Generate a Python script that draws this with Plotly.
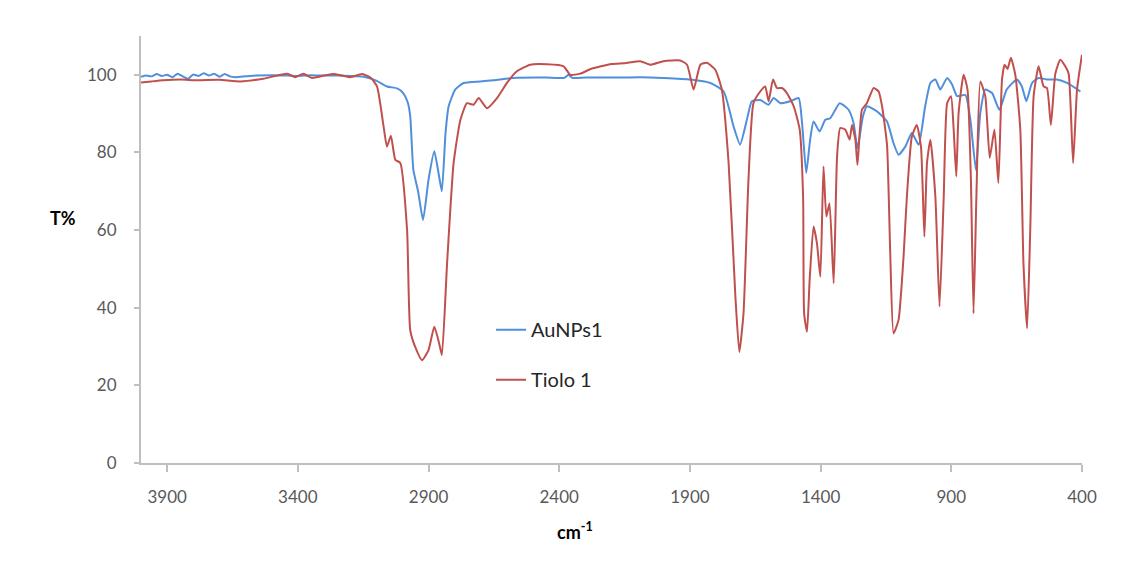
import plotly.graph_objects as go

# Wavenumber (cm-1) and transmittance (%)
tiolo_x = [4000, 3960, 3915, 3850, 3786, 3700, 3620, 3532, 3441, 3410, 3379, 3346, 3300, 3263, 3230,
           3199, 3154, 3120, 3097, 3072, 3059, 3044, 3027, 3008, 2982, 2970, 2951, 2925, 2900, 2878,
           2860, 2849, 2829, 2804, 2778, 2753, 2728, 2708, 2676, 2638, 2600, 2562, 2511, 2447, 2383,
           2358, 2319, 2280, 2200, 2150, 2090, 2052, 2002, 1937, 1911, 1886, 1860, 1835, 1803, 1778,
           1752, 1726, 1711, 1695, 1676, 1657, 1631, 1612, 1599, 1582, 1567, 1548, 1529, 1503, 1480,
           1467, 1463, 1452, 1442, 1427, 1414, 1401, 1389, 1378, 1366, 1350, 1337, 1325, 1306, 1289,
           1280, 1267, 1259, 1242, 1223, 1197, 1178, 1165, 1146, 1134, 1121, 1102, 1083, 1070, 1051,
           1032, 1016, 1003, 993, 980, 961, 945, 929, 916, 901, 891, 881, 872, 853, 838,
           825, 815, 804, 789, 770, 753, 735, 720, 706, 696, 685, 672, 655, 636, 624,
           610, 598, 585, 566, 547, 534, 519, 502, 483, 464, 451, 434, 419, 400]
tiolo_y = [98.0, 98.3, 98.6, 98.8, 98.6, 98.7, 98.3, 99.0, 100.3, 99.4, 100.3, 99.2, 99.8, 100.2, 99.8,
           99.4, 100.2, 99.2, 97.0, 86.7, 81.5, 84.3, 78.1, 77.3, 60.0, 34.2, 29.9, 26.5, 29.1, 35.1,
           31.0, 27.8, 51.5, 77.3, 88.4, 92.7, 92.3, 94.0, 91.4, 94.0, 97.9, 100.9, 102.6, 102.7, 102.2,
           100.0, 100.3, 101.5, 102.8, 103.0, 103.5, 102.6, 103.5, 103.7, 102.6, 96.2, 102.6, 103.1, 101.3, 96.2,
           77.3, 42.8, 28.6, 38.5, 73.0, 92.7, 95.7, 97.0, 93.2, 98.8, 96.6, 96.6, 95.3, 91.9, 85.9,
           68.6, 38.5, 33.8, 47.1, 60.9, 56.6, 48.0, 76.4, 63.5, 66.9, 46.3, 79.0, 86.3, 85.9, 83.3,
           87.1, 83.3, 76.8, 91.0, 92.7, 96.6, 95.7, 91.9, 82.0, 55.0, 33.4, 36.8, 52.8, 68.6, 84.1,
           87.1, 81.5, 58.3, 77.3, 83.3, 68.6, 40.3, 68.6, 92.7, 94.5, 85.9, 73.8, 90.2, 100.0, 96.2,
           73.0, 38.5, 68.6, 98.3, 94.5, 78.6, 85.9, 72.1, 98.8, 102.6, 101.5, 104.4, 99.9, 85.9, 51.5,
           34.7, 60.0, 94.5, 102.2, 97.0, 96.6, 87.1, 100.3, 103.9, 102.2, 100.3, 77.3, 96.2, 105.2]

aunps_x = [4000, 3980, 3960, 3940, 3920, 3900, 3880, 3860, 3840, 3820, 3800, 3780, 3760, 3740, 3720,
           3700, 3680, 3660, 3640, 3600, 3560, 3500, 3440, 3400, 3350, 3300, 3250, 3200, 3148, 3100,
           3059, 3020, 2997, 2980, 2970, 2958, 2940, 2921, 2900, 2878, 2860, 2849, 2835, 2823, 2798,
           2766, 2702, 2650, 2576, 2450, 2380, 2365, 2350, 2300, 2200, 2090, 2000, 1898, 1822, 1771,
           1733, 1708, 1682, 1663, 1631, 1599, 1580, 1554, 1516, 1484, 1471, 1455, 1440, 1427, 1404,
           1382, 1363, 1327, 1293, 1274, 1259, 1238, 1223, 1185, 1146, 1121, 1102, 1076, 1051, 1025,
           1000, 980, 961, 942, 916, 897, 878, 846, 827, 806, 789, 770, 744, 716, 688,
           649, 630, 613, 591, 566, 534, 496, 457, 406]
aunps_y = [99.5, 99.8, 99.6, 100.2, 99.7, 100.0, 99.4, 100.3, 99.6, 99.0, 100.1, 99.7, 100.4, 99.8, 100.3,
           99.5, 100.2, 99.6, 99.4, 99.6, 99.8, 99.9, 99.8, 99.7, 99.9, 99.8, 99.8, 99.7, 99.5, 98.5,
           97.0, 96.5, 95.3, 93.0, 89.3, 75.5, 70.0, 62.6, 73.0, 80.3, 74.0, 70.0, 85.0, 91.9, 96.2,
           97.9, 98.3, 98.6, 99.2, 99.3, 99.2, 100.0, 99.2, 99.3, 99.3, 99.4, 99.2, 98.8, 97.9, 95.7,
           86.7, 82.0, 88.4, 93.2, 93.5, 92.3, 94.0, 92.7, 93.2, 94.0, 87.6, 74.7, 83.3, 88.0, 85.4,
           88.4, 88.8, 92.7, 91.0, 87.6, 81.1, 89.3, 91.9, 90.6, 88.0, 82.4, 79.4, 81.5, 85.0, 82.0,
           91.9, 97.9, 98.8, 96.2, 99.2, 97.5, 94.5, 94.8, 88.4, 75.5, 90.2, 96.2, 95.3, 91.0, 96.2,
           98.8, 97.0, 93.2, 97.9, 99.2, 98.8, 98.8, 97.9, 95.7]

x_ticks = [3900, 3400, 2900, 2400, 1900, 1400, 900, 400]
y_ticks = [0, 20, 40, 60, 80, 100]

FONT = "Lato, 'Open Sans', sans-serif"
AXIS_COL = "#bfbfbf"
TICK_COL = "#595959"

fig = go.Figure()
fig.add_trace(go.Scatter(x=aunps_x, y=aunps_y, mode="lines", name="AuNPs1", legendgroup="a",
                         line=dict(color="#4f8fdb", width=2, shape="spline", smoothing=0.5)))
fig.add_trace(go.Scatter(x=tiolo_x, y=tiolo_y, mode="lines", name="Tiolo 1", legendgroup="b",
                         line=dict(color="#c0504d", width=2, shape="spline", smoothing=0.5)))

fig.update_layout(
    width=1141, height=567,
    margin=dict(l=141, r=59, t=36, b=104),
    paper_bgcolor="white", plot_bgcolor="white",
    font=dict(family=FONT, size=17, color=TICK_COL),
    showlegend=True,
    legend=dict(x=0.372, y=0.358, xanchor="left", yanchor="top",
                bgcolor="rgba(0,0,0,0)", tracegroupgap=21,
                font=dict(family=FONT, size=20, color="#262626")),
    xaxis=dict(range=[4000, 400], tickmode="array", tickvals=x_ticks,
               showgrid=False, zeroline=False, showline=True, linecolor=AXIS_COL, linewidth=2,
               ticks="outside", ticklen=7, tickcolor=AXIS_COL, tickwidth=1.5,
               ticklabelstandoff=11, tickfont=dict(size=17, color=TICK_COL)),
    yaxis=dict(range=[0, 110], tickmode="array", tickvals=y_ticks,
               showgrid=False, zeroline=False, showline=True, linecolor=AXIS_COL, linewidth=2,
               ticks="outside", ticklen=5, tickcolor=AXIS_COL, tickwidth=1.5,
               ticklabelstandoff=14, tickfont=dict(size=17, color=TICK_COL)),
    annotations=[
        dict(text="<b>T%</b>", xref="paper", yref="paper", x=(48 - 141) / 941, y=(463 - 218) / 427,
             showarrow=False, font=dict(family=FONT, size=18, color="#000000")),
        dict(text="<b>cm<sup>-1</sup></b>", xref="paper", yref="paper", x=(575 - 141) / 941,
             y=(463 - 545) / 427, showarrow=False, font=dict(family=FONT, size=18, color="#000000")),
    ],
)

fig.write_html("out.html")
